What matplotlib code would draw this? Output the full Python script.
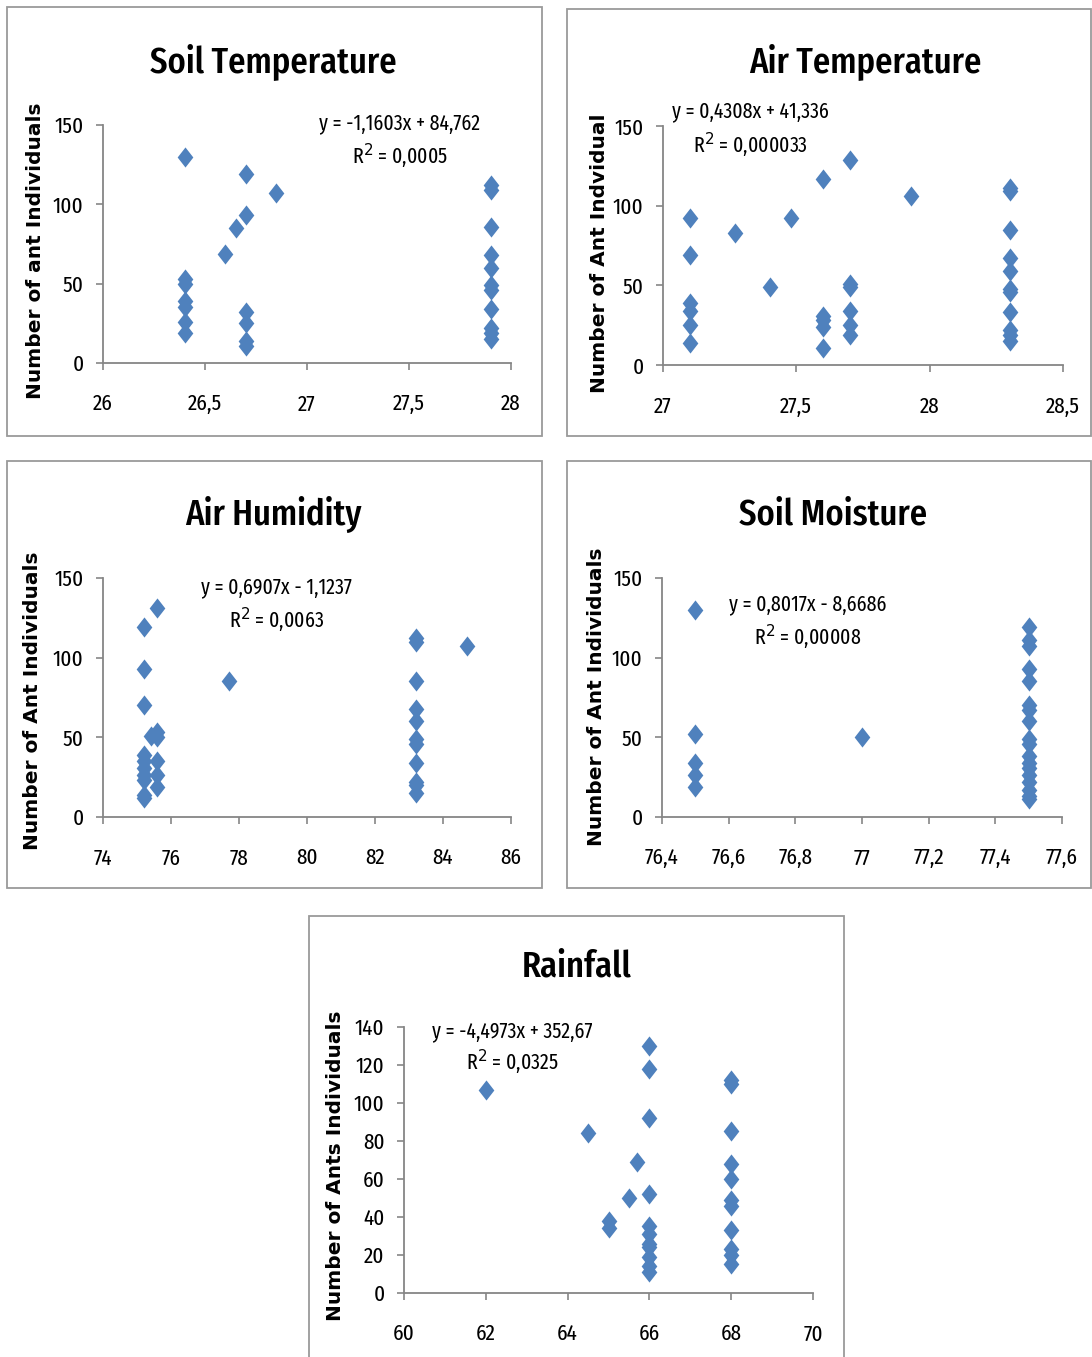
import matplotlib.pyplot as plt
from matplotlib.patches import Rectangle
from matplotlib.ticker import FuncFormatter

# Data
soil_temp_x = [26.4] * 7 + [26.6, 26.65] + [26.7] * 6 + [26.85] + [27.9] * 11
soil_temp_y = [130, 53, 50, 39, 35, 26, 19, 69, 85, 119, 93, 32, 25, 14, 11, 107,
               112, 109, 86, 68, 60, 49, 46, 34, 22, 19, 15]

air_temp_x = ([27.1] * 6 + [27.27, 27.4, 27.48] + [27.6] * 5 + [27.7] * 6
              + [27.93] + [28.3] * 11)
air_temp_y = [92, 69, 39, 34, 25, 14, 83, 49, 92, 117, 31, 28, 24, 11,
              129, 51, 49, 34, 25, 19, 106,
              111, 109, 85, 67, 59, 48, 46, 33, 22, 19, 15]

air_hum_x = [75.2] * 10 + [75.4] + [75.6] * 6 + [77.7] + [83.2] * 11 + [84.7]
air_hum_y = [119, 93, 70, 39, 35, 31, 26, 23, 14, 12, 51,
             131, 53, 50, 35, 26, 19, 85,
             112, 110, 85, 68, 60, 49, 46, 34, 22, 20, 15, 107]

soil_moist_x = [76.5] * 5 + [77.0] + [77.5] * 18
soil_moist_y = [130, 52, 34, 26, 19, 50,
                119, 111, 107, 93, 85, 70, 67, 60, 49, 46, 38, 34, 31, 26, 22, 17, 13, 11]

rain_x = [62, 64.5, 65, 65, 65.5, 65.7] + [66] * 11 + [68] * 11
rain_y = [107, 84, 38, 34, 50, 69,
          130, 118, 92, 52, 35, 31, 26, 24, 19, 14, 11,
          112, 110, 85, 68, 60, 49, 46, 33, 23, 20, 15]

titles = ["Soil Temperature", "Air Temperature", "Air Humidity", "Soil Moisture", "Rainfall"]
ylabels = ["Number of ant Individuals", "Number of Ant Indvidual",
           "Number of Ant Individuals", "Number of Ant Individuals",
           "Number of Ants Individuals"]
equations = ["y = -1,1603x + 84,762", "y = 0,4308x + 41,336", "y = 0,6907x - 1,1237",
             "y = 0,8017x - 8,6686", "y = -4,4973x + 352,67"]
r_squared = ["0,0005", "0,000033", "0,0063", "0,00008", "0,0325"]

x_ticks = [[26, 26.5, 27, 27.5, 28], [27, 27.5, 28, 28.5], [74, 76, 78, 80, 82, 84, 86],
           [76.4, 76.6, 76.8, 77, 77.2, 77.4, 77.6], [60, 62, 64, 66, 68, 70]]
y_ticks = [[0, 50, 100, 150]] * 4 + [[0, 20, 40, 60, 80, 100, 120, 140]]

series = [(soil_temp_x, soil_temp_y), (air_temp_x, air_temp_y), (air_hum_x, air_hum_y),
          (soil_moist_x, soil_moist_y), (rain_x, rain_y)]

# Layout (figure fractions)
axes_pos = [[0.0943, 0.7325, 0.3736, 0.1754],
            [0.6071, 0.7310, 0.3663, 0.1761],
            [0.0943, 0.3980, 0.3736, 0.1761],
            [0.6062, 0.3980, 0.3663, 0.1761],
            [0.3700, 0.0472, 0.3745, 0.1960]]
boxes = [[0.0064, 0.6787, 0.4900, 0.3160],
         [0.5190, 0.6787, 0.4800, 0.3147],
         [0.0064, 0.3456, 0.4900, 0.3147],
         [0.5190, 0.3456, 0.4800, 0.3147],
         [0.2830, -0.01, 0.4900, 0.3350]]
title_pos = [(273, 62), (865, 62), (273, 515), (833, 515), (577, 967)]
eq_pos = [(0.728, 1.008, 0.87), (0.2175, 1.063, 0.92), (0.426, 0.962, 0.824),
          (0.365, 0.891, 0.753), (0.264, 0.985, 0.868)]
ylab_pos = [(-0.142, 0.47), (-0.135, 0.469), (-0.150, 0.485), (-0.140, 0.502), (-0.144, 0.48)]

W, H = 1092, 1357
narrow = ["Fira Sans Extra Condensed", "Archivo Narrow", "DejaVu Sans"]
blue = "#4F81BD"
axis_gray = "#868686"
diamond = [(0, 1), (0.78, 0), (0, -1), (-0.78, 0), (0, 1)]


def comma_fmt(v, pos):
    s = f"{v:g}"
    return s.replace(".", ",")


fig = plt.figure(figsize=(10.92, 13.57), dpi=100)

for i in range(5):
    b = boxes[i]
    fig.add_artist(Rectangle((b[0], b[1]), b[2], b[3], transform=fig.transFigure,
                             facecolor="none", edgecolor="#9a9a9a", linewidth=1.3))

    ax = fig.add_axes(axes_pos[i])
    xs, ys = series[i]
    ax.scatter(xs, ys, marker=diamond, s=210, color=blue, linewidths=0, zorder=3,
               clip_on=False)

    ax.set_xlim(x_ticks[i][0], x_ticks[i][-1])
    ax.set_ylim(y_ticks[i][0], y_ticks[i][-1])
    ax.set_xticks(x_ticks[i])
    ax.set_yticks(y_ticks[i])
    ax.xaxis.set_major_formatter(FuncFormatter(comma_fmt))
    ax.yaxis.set_major_formatter(FuncFormatter(comma_fmt))

    for side in ["top", "right"]:
        ax.spines[side].set_visible(False)
    for side in ["left", "bottom"]:
        ax.spines[side].set_color(axis_gray)
        ax.spines[side].set_linewidth(1.3)
    ax.tick_params(axis="both", direction="out", length=5, width=1.2, color=axis_gray,
                   labelsize=16.5)
    ax.tick_params(axis="x", pad=17)
    ax.tick_params(axis="y", pad=9)
    for lab in ax.get_xticklabels() + ax.get_yticklabels():
        lab.set_family(narrow)

    ax.set_ylabel(ylabels[i], fontsize=14.5, fontweight="bold", family="DejaVu Sans")
    ax.yaxis.set_label_coords(*ylab_pos[i])

    ex, ey, ry = eq_pos[i]
    ax.text(ex, ey, equations[i], transform=ax.transAxes, ha="center", va="center",
            fontsize=15.5, family=narrow, clip_on=False)
    ax.text(ex, ry, "R$^2$ = " + r_squared[i], transform=ax.transAxes, ha="center",
            va="center", fontsize=15.5, family=narrow, clip_on=False)

    tx, ty = title_pos[i]
    fig.text(tx / W, 1 - ty / H, titles[i], ha="center", va="center", fontsize=27,
             fontweight="medium", family=narrow)

fig.savefig("out.png", dpi=100)
